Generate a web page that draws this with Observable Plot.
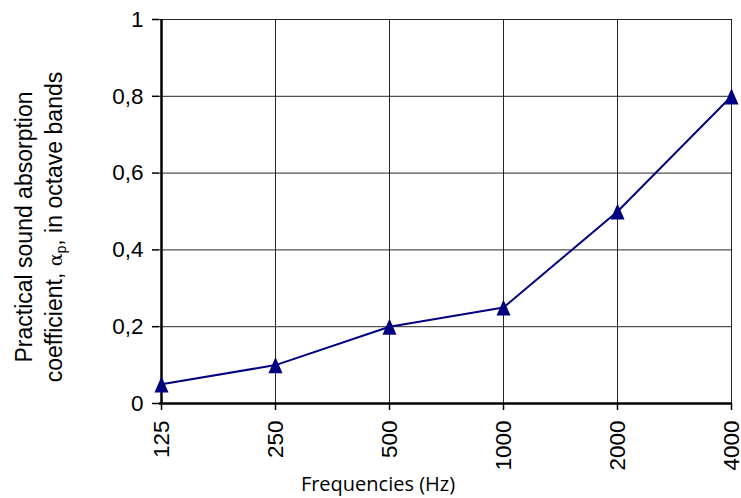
<!DOCTYPE html>
<html><head><meta charset="utf-8">
<script src="https://cdn.jsdelivr.net/npm/d3@7"></script>
<script src="https://cdn.jsdelivr.net/npm/@observablehq/plot@0.6"></script>
<style>body{margin:0;background:#fff}</style>
</head><body><div id="chart"></div>
<script>
const frequencies = ["125", "250", "500", "1000", "2000", "4000"];
const coefficients = [0.05, 0.1, 0.2, 0.25, 0.5, 0.8];
const yTicks = [0, 0.2, 0.4, 0.6, 0.8, 1];
const yLabelLine1 = "Practical sound absorption";
const yLabelLine2a = "coefficient, ";
const yLabelAlpha = "α";
const yLabelSub = "p";
const yLabelLine2b = ", in octave bands";
const xLabel = "Frequencies (Hz)";

const data = frequencies.map((f, i) => ({f, v: coefficients[i]}));

const triangle = {
  draw(ctx, size) {
    const s = Math.sqrt(size / Math.PI);
    const w = 2.5 * s, h = 2.9 * s;
    ctx.moveTo(0, -h / 2);
    ctx.lineTo(w / 2, h / 2);
    ctx.lineTo(-w / 2, h / 2);
    ctx.closePath();
  }
};

const navy = "#000080";
const chart = Plot.plot({
  width: 741, height: 498,
  marginLeft: 159, marginRight: 9, marginTop: 19, marginBottom: 95,
  style: {fontFamily: "'Liberation Sans', Arial, sans-serif", fontSize: "22.5px", color: "#000", background: "#fff"},
  x: {type: "point", domain: frequencies, padding: 0},
  y: {domain: [0, 1]},
  marks: [
    Plot.gridX(frequencies, {stroke: "#000", strokeOpacity: 0.85, strokeWidth: 1}),
    Plot.gridY(yTicks, {stroke: "#000", strokeOpacity: 0.85, strokeWidth: 1}),
    Plot.axisY(yTicks, {tickSize: 7, tickPadding: 9, strokeWidth: 1.5, tickFormat: d => String(d).replace(".", ","), label: null}),
    Plot.axisX(frequencies, {tickSize: 7, tickPadding: 10, strokeWidth: 1.5, tickRotate: -90, label: null}),
    Plot.ruleX([frequencies[0]], {stroke: "#000", strokeWidth: 2.5}),
    Plot.ruleY([0], {stroke: "#000", strokeWidth: 2.5}),
    Plot.line(data, {x: "f", y: "v", stroke: navy, strokeWidth: 2}),
    Plot.dot(data, {x: "f", y: "v", symbol: triangle, r: 5.6, fill: navy, stroke: "none"})
  ]
});
document.getElementById("chart").append(chart);

const svg = d3.select(chart);
const yl = svg.append("g")
  .attr("transform", "translate(0,227) rotate(-90)")
  .attr("font-family", "'Liberation Sans', Arial, sans-serif")
  .attr("font-size", 23)
  .attr("fill", "#000");
yl.append("text").attr("x", 0).attr("y", 32).attr("text-anchor", "middle").text(yLabelLine1);
const t2 = yl.append("text").attr("x", 0).attr("y", 62).attr("text-anchor", "middle");
t2.append("tspan").text(yLabelLine2a);
t2.append("tspan").attr("font-size", 19).attr("font-family", "'DejaVu Serif', serif").text(yLabelAlpha);
t2.append("tspan").attr("font-size", 14).attr("dy", 4).text(yLabelSub);
t2.append("tspan").attr("dy", -4).text(yLabelLine2b);

svg.append("text")
  .attr("x", 378).attr("y", 491)
  .attr("text-anchor", "middle")
  .attr("font-family", "'Open Sans', 'Noto Sans', sans-serif")
  .attr("font-size", 20)
  .attr("fill", "#000")
  .text(xLabel);
</script>
</body></html>
